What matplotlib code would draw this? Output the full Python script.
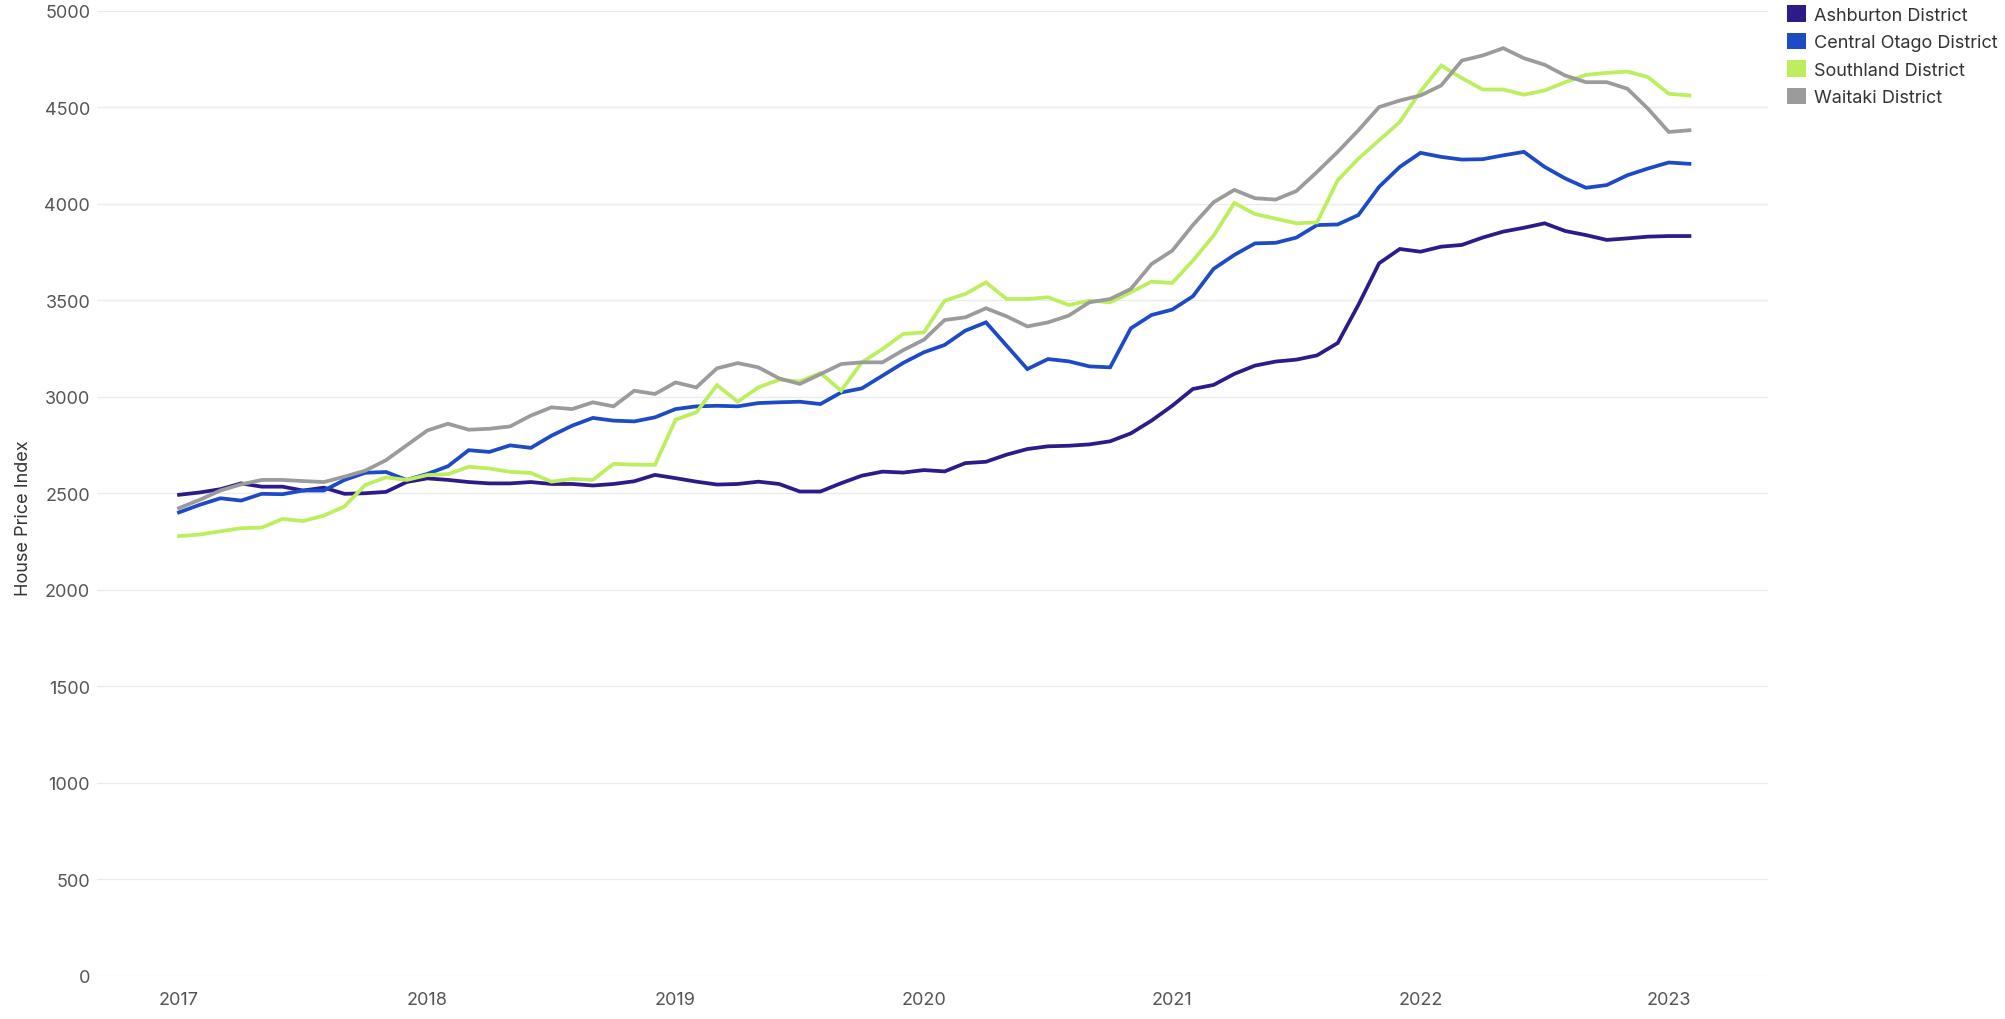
import matplotlib
matplotlib.use("Agg")
import matplotlib.pyplot as plt
from matplotlib.patches import Patch
import numpy as np

plt.rcParams['font.family'] = ['Inter', 'DejaVu Sans']

# monthly index, Jan 2017 .. Feb 2023
start_year = 2017
n_months = 74
year_ticks = [2017, 2018, 2019, 2020, 2021, 2022, 2023]

ashburton = [
    2492, 2504, 2521, 2551, 2534, 2534, 2514, 2529, 2497, 2500, 2507, 2558,
    2577, 2569, 2558, 2551, 2551, 2558, 2548, 2548, 2540, 2548, 2562, 2595,
    2578, 2560, 2545, 2548, 2560, 2548, 2509, 2509, 2552, 2591, 2612, 2607,
    2620, 2613, 2656, 2663, 2700, 2729, 2743, 2746, 2753, 2769, 2810, 2876,
    2953, 3040, 3061, 3118, 3161, 3182, 3192, 3214, 3278, 3476, 3691, 3765,
    3751, 3777, 3786, 3824, 3855, 3875, 3898, 3858, 3837, 3812, 3820, 3829,
    3832, 3832,
]
central_otago = [
    2401, 2440, 2474, 2462, 2497, 2495, 2514, 2514, 2569, 2606, 2610, 2569,
    2600, 2640, 2723, 2714, 2748, 2735, 2798, 2850, 2890, 2876, 2872, 2893,
    2936, 2950, 2953, 2950, 2967, 2971, 2974, 2962, 3022, 3043, 3109, 3175,
    3230, 3268, 3342, 3385, 3264, 3143, 3195, 3183, 3157, 3152, 3354, 3423,
    3451, 3520, 3662, 3734, 3794, 3797, 3824, 3889, 3892, 3941, 4087, 4190,
    4263, 4242, 4228, 4230, 4250, 4268, 4190, 4130, 4082, 4096, 4147, 4182,
    4213, 4206,
]
southland = [
    2278, 2286, 2303, 2319, 2322, 2367, 2356, 2384, 2432, 2543, 2582, 2569,
    2594, 2599, 2637, 2628, 2611, 2605, 2560, 2574, 2569, 2652, 2648, 2647,
    2881, 2919, 3060, 2974, 3048, 3088, 3079, 3122, 3031, 3178, 3247, 3325,
    3333, 3497, 3532, 3592, 3506, 3506, 3515, 3475, 3497, 3489, 3541, 3596,
    3589, 3705, 3834, 4003, 3946, 3922, 3898, 3903, 4121, 4233, 4328, 4423,
    4581, 4715, 4650, 4591, 4591, 4564, 4586, 4629, 4667, 4677, 4684, 4655,
    4569, 4560,
]
waitaki = [
    2423, 2466, 2514, 2546, 2569, 2569, 2563, 2558, 2586, 2617, 2671, 2748,
    2825, 2860, 2829, 2834, 2846, 2902, 2945, 2936, 2971, 2950, 3031, 3014,
    3074, 3048, 3147, 3174, 3152, 3095, 3066, 3117, 3169, 3178, 3178, 3241,
    3295, 3397, 3411, 3458, 3416, 3364, 3385, 3420, 3489, 3506, 3558, 3687,
    3756, 3889, 4007, 4071, 4028, 4021, 4065, 4164, 4268, 4380, 4500, 4534,
    4560, 4612, 4741, 4767, 4805, 4753, 4719, 4663, 4629, 4629, 4595, 4491,
    4371, 4380,
]

names = ["Ashburton District", "Central Otago District", "Southland District", "Waitaki District"]
colors = ["#2E1A88", "#1D4BC6", "#BCEE5E", "#9B9B9B"]

x = start_year + np.arange(n_months) / 12.0

fig = plt.figure(figsize=(20.06, 10.2), dpi=100)
ax = fig.add_axes([0.0484, 0.0422, 0.8330, 0.9465])

for vals, c in zip([ashburton, central_otago, southland, waitaki], colors):
    ax.plot(x, vals, color=c, lw=2.7, solid_joinstyle='miter')

ax.set_xlim(2016.670, 2023.400)
ax.set_ylim(0, 5000)
ax.set_xticks(year_ticks)
ax.set_xticklabels([str(y) for y in year_ticks])
ax.set_yticks(range(0, 5001, 500))
ax.tick_params(axis='both', length=0, labelsize=13, labelcolor='#555555')
ax.tick_params(axis='x', pad=11)
ax.tick_params(axis='y', pad=5)
ax.grid(axis='y', color='#EBEBEB', lw=1)
ax.set_axisbelow(True)
for s in ax.spines.values():
    s.set_visible(False)

fig.text(24 / 2006, 0.492, "House Price Index", rotation=90, ha='center', va='center',
         fontsize=13, color='#333333')

handles = [Patch(facecolor=c, edgecolor='none') for c in colors]
fig.legend(handles, names, loc='upper left', bbox_to_anchor=(1787 / 2006, 1 - 6 / 1020),
           frameon=False, fontsize=13, handlelength=1.05, handleheight=1.05,
           handletextpad=0.45, labelspacing=0.5, borderpad=0, borderaxespad=0,
           labelcolor='#333333')

fig.savefig("out.png", dpi=100, facecolor='white')
